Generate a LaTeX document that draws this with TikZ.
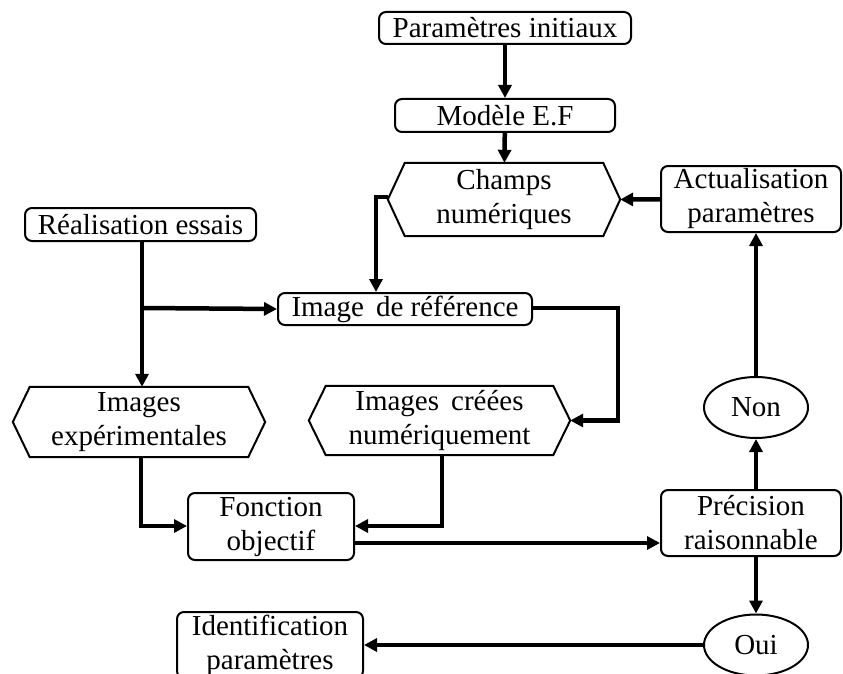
\documentclass[tikz,border=0pt]{standalone}
\usepackage{fontspec}
\setmainfont{Liberation Serif}
\usetikzlibrary{arrows.meta,shapes.geometric,calc}
\begin{document}
\begin{tikzpicture}[x=1pt,y=-1pt,
  every node/.style={font=\fontsize{29}{34}\selectfont, align=center, inner sep=0pt},
  rbox/.style={draw, line width=2pt, rounded corners=7pt},
  hexbox/.style={draw=none},
  ellbox/.style={draw, ellipse, line width=2pt},
  hexline/.style={line width=2pt, line join=miter},
  conn/.style={line width=4.5pt, -{Triangle[length=13pt,width=13pt]}},
  plain/.style={line width=4.5pt}
]
\useasboundingbox (0,0) rectangle (843,674);
% nodes
\node[rbox, minimum width=252pt, minimum height=32pt] (pi) at (505,28) {Paramètres initiaux};
\node[rbox, minimum width=220pt, minimum height=33pt] (mef) at (505,115.5) {Modèle E.F};
\node[hexbox, minimum width=232pt, minimum height=73pt] (ch) at (504,199.5) {Champs\\numériques};
\node[rbox, minimum width=180pt, minimum height=66pt] (act) at (751,199) {Actualisation\\paramètres};
\node[rbox, minimum width=231pt, minimum height=33pt] (real) at (140.5,224.5) {Réalisation essais};
\node[rbox, minimum width=254pt, minimum height=32pt] (ref) at (405,309) {Image\, de référence};
\node[hexbox, minimum width=252pt, minimum height=70pt] (iexp) at (139,422) {Images\\expérimentales};
\node[hexbox, minimum width=261pt, minimum height=69pt] (icr) at (439.5,420.5) {Images\, créées\\numériquement};
\node[ellbox, minimum width=104pt, minimum height=61pt] (non) at (756,407.5) {Non};
\node[rbox, minimum width=166pt, minimum height=67pt] (fo) at (271,526.5) {Fonction\\objectif};
\node[rbox, minimum width=180pt, minimum height=66pt] (prec) at (751,523) {Précision\\raisonnable};
\node[ellbox, minimum width=104pt, minimum height=61pt] (oui) at (756,645) {Oui};
\node[rbox, minimum width=186pt, minimum height=66pt] (id) at (270,645) {Identification\\paramètres};
% hexagon outlines
\foreach \n in {ch,iexp,icr}{
  \draw[hexline] (\n.west) -- ([xshift=17pt]\n.north west) -- ([xshift=-17pt]\n.north east)
    -- (\n.east) -- ([xshift=-17pt]\n.south east) -- ([xshift=17pt]\n.south west) -- cycle;
}
% coordinates
\coordinate (split) at (142,308);
\coordinate (c1) at (376,197);
\coordinate (c2) at (618,308);
\coordinate (c3) at (618,420.5);
\coordinate (c4) at (442,526);
\coordinate (c5) at (141,526);
\coordinate (c6) at (354,543);
% connectors
\draw[conn] (pi) -- (mef);
\draw[conn] (mef) -- (ch);
\draw[conn] (act) -- (ch.east);
\draw[conn] (ch.west |- c1) -- (c1) -- (c1 |- ref.north);
\draw[conn] (real.south -| split) -- (split |- iexp.north);
\draw[conn] (split) -- (ref.west);
\draw[conn] (ref.east |- c2) -- (c2) -- (c3) -- (icr.east);
\draw[conn] (c4 |- icr.south) -- (c4) -- (fo.east |- c4);
\draw[conn] (c5 |- iexp.south) -- (c5) -- (fo.west |- c5);
\draw[conn] (c6) -- (prec.west |- c6);
\draw[conn] (prec.north -| non) -- (non.south);
\draw[conn] (non.north) -- (act.south -| non);
\draw[conn] (prec.south -| oui) -- (oui.north);
\draw[conn] (oui.west) -- (id.east);
\end{tikzpicture}
\end{document}
